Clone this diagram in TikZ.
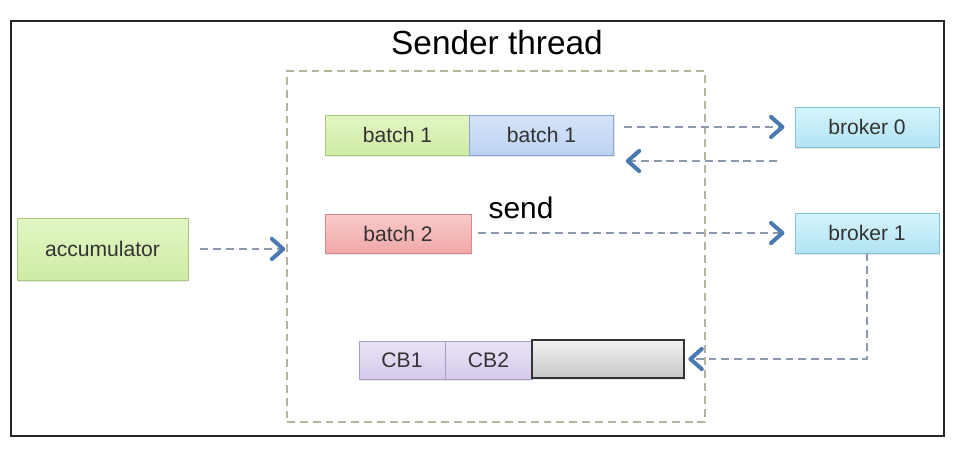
\documentclass[tikz,border=0pt]{standalone}
\usepackage{fontspec}
\setmainfont{Liberation Sans}
\usetikzlibrary{arrows.meta,shadows}

\definecolor{tipblue}{HTML}{4A7AB2}
\definecolor{flowgray}{HTML}{8C9AAE}
\definecolor{framegray}{HTML}{B4B49C}
\definecolor{gtop}{HTML}{E2F6C4}
\definecolor{gbot}{HTML}{CFEBA4}
\definecolor{gline}{HTML}{A9C97F}
\definecolor{btop}{HTML}{D6E4F8}
\definecolor{bbot}{HTML}{BCD1F2}
\definecolor{bline}{HTML}{86A6D6}
\definecolor{rtop}{HTML}{F9CACA}
\definecolor{rbot}{HTML}{F0A8A8}
\definecolor{rline}{HTML}{D48A8A}
\definecolor{ptop}{HTML}{EAE3F6}
\definecolor{pbot}{HTML}{D6CAEC}
\definecolor{pline}{HTML}{A99BC4}
\definecolor{ctop}{HTML}{D6F4FC}
\definecolor{cbot}{HTML}{B2E3F3}
\definecolor{cline}{HTML}{7CC4DA}

\tikzset{
	box/.style={draw,inner sep=0pt,outer sep=0pt,minimum height=0.8cm,text=black!80,
		font=\fontsize{12}{14}\selectfont,
		drop shadow={opacity=0.2,shadow xshift=0.6pt,shadow yshift=-1.2pt}},
	flow/.style={draw=flowgray,line width=0.9pt,dash pattern=on 4.5pt off 2.8pt,
		-{Straight Barb[length=6.5pt,width=11.5pt,line width=2.3pt,color=tipblue,round]}}
}

\begin{document}
\begin{tikzpicture}[x=0.02cm,y=-0.02cm]
			\useasboundingbox (0,0) rectangle (958,453);
			\draw[black!85,line width=1.1pt] (11,21) rectangle (944,436);

			\node (title) at (497,43) [font=\fontsize{19}{22}\selectfont] {Sender thread};
			\node (thr) at (496,246.5) [draw=framegray,line width=0.9pt,dash pattern=on 4.5pt off 2.8pt,minimum width=8.36cm,minimum height=7.02cm,inner sep=0pt,outer sep=0pt] {};

			\node (acc) at (102.5,249) [box,minimum width=3.42cm,minimum height=1.24cm,draw=gline,top color=gtop,bottom color=gbot] {accumulator};
			\node (b1a) at (397.5,135) [box,minimum width=2.88cm,draw=gline,top color=gtop,bottom color=gbot] {batch 1};
			\node (b1b) at (541.5,135) [box,minimum width=2.88cm,draw=bline,top color=btop,bottom color=bbot] {batch 1};
			\node (b2) at (398,233.5) [box,minimum width=2.92cm,minimum height=0.78cm,draw=rline,top color=rtop,bottom color=rbot] {batch 2};
			\node (send) at (521,208) [font=\fontsize{17}{20}\selectfont] {send};

			\node (br0) at (867,127) [box,minimum width=2.88cm,draw=cline,top color=ctop,bottom color=cbot] {broker 0};
			\node (br1) at (867,233) [box,minimum width=2.88cm,draw=cline,top color=ctop,bottom color=cbot] {broker 1};

			\node (cb1) at (402,360) [box,minimum width=1.72cm,minimum height=0.76cm,draw=pline,top color=ptop,bottom color=pbot] {CB1};
			\node (cb2) at (488.5,360) [box,minimum width=1.74cm,minimum height=0.76cm,draw=pline,top color=ptop,bottom color=pbot] {CB2};
			\node (cbq) at (608,359) [box,minimum width=3.04cm,minimum height=0.76cm,draw=black!80,line width=1.1pt,top color=black!5,bottom color=black!22] {};

			\coordinate (ret) at (777,161);

			\draw[flow,shorten <=7pt,shorten >=1pt] (acc.east) -- (thr.west |- acc.east);
			\draw[flow,shorten <=6pt,shorten >=6pt] (b1b.east |- br0.west) -- (br0.west);
			\draw[flow,shorten >=7pt] (ret) -- (ret -| b1b.east);
			\draw[flow,shorten <=4pt,shorten >=6pt] (b2.east |- br1.west) -- (br1.west);
			\draw[flow,shorten >=2.5pt] (br1.south) |- (cbq.east);
		\end{tikzpicture}
\end{document}
